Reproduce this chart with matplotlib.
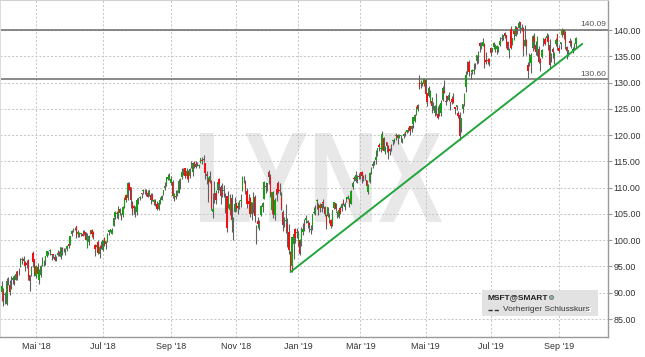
import matplotlib
matplotlib.use('Agg')
import matplotlib.pyplot as plt
import numpy as np
import pandas as pd
from matplotlib.textpath import TextPath
from matplotlib.font_manager import FontProperties
from matplotlib.patches import PathPatch, Rectangle
from matplotlib.transforms import Affine2D, blended_transform_factory
from matplotlib.lines import Line2D

plt.rcParams['font.family'] = ['Liberation Sans', 'DejaVu Sans']

# ---------------- data ----------------
start_date = '2018-03-29'
end_date = '2019-09-18'
holidays = ['2018-03-30', '2018-05-28', '2018-07-04', '2018-09-03', '2018-11-22',
            '2018-12-05', '2018-12-25', '2019-01-01', '2019-01-21', '2019-02-18',
            '2019-04-19', '2019-05-27', '2019-07-04', '2019-09-02']

opens = [
    90.18,
    90.47, 89.58, 87.85, 92.44, 91.49, 91.04, 92.39, 92.01, 92.43, 94.05, 94.07, 95.00, 96.22, 96.44, 95.91, 95.74, 96.24, 93.30, 93.55, 97.60, 96.33,
    93.21, 94.99, 92.36, 93.41, 95.17, 95.85, 96.01, 97.06, 97.79, 97.93, 97.12, 97.36, 96.80, 96.24, 97.15, 97.72, 96.89, 98.51, 98.27, 97.62, 98.33, 99.29,
    99.28, 101.26, 102.00, 102.48, 102.65, 101.09, 101.01, 101.10, 101.10, 101.65, 101.51, 98.55, 99.65, 101.37, 101.99, 101.61, 99.10, 98.80, 99.71, 97.38, 99.06,
    98.10, 100.48, 99.35, 99.89, 101.60, 101.92, 101.22, 102.71, 104.37, 105.26, 104.50, 105.98, 104.53, 104.71, 106.30, 108.57, 107.96, 110.74, 110.18, 107.19, 106.49,
    106.03, 105.40, 107.80, 108.12, 108.97, 109.33, 109.71, 109.42, 109.06, 108.51, 108.67, 108.69, 107.36, 107.51, 106.92, 105.85, 107.15, 107.67, 108.73, 109.84, 110.45, 111.67, 111.69,
    110.85, 111.01, 108.25, 108.23, 108.84, 108.90, 111.43, 112.12, 113.36, 113.69, 112.19, 113.05, 112.28, 114.00, 113.03, 114.80, 114.47, 114.78, 114.19,
    114.75, 115.30, 115.42, 114.61, 112.63, 111.66, 111.14, 111.24, 105.35, 109.01, 108.91, 109.54, 111.68, 110.10, 108.93, 109.32, 107.77, 108.41, 106.55, 105.69, 108.11, 103.66, 105.44,
    107.05, 106.48, 106.37, 107.38, 109.44, 111.80, 110.85, 109.42, 107.55, 108.10, 104.99, 106.81, 108.27, 101.80, 103.60, 102.17, 104.79, 106.27, 107.89, 110.33, 110.70,
    113.00, 111.94, 105.82, 108.38, 104.80, 109.80, 110.89, 109.58, 108.25, 105.41, 103.75, 103.65, 103.05, 101.63, 97.68, 95.14, 99.30, 102.09, 101.29,
    99.55, 100.10, 99.72, 101.64, 103.04, 103.86, 103.22, 103.19, 101.90, 102.51, 105.26, 105.00, 107.46, 106.75, 106.12, 106.86, 107.24, 106.26, 104.88, 104.62, 103.80,
    103.78, 102.87, 106.06, 107.00, 105.19, 104.39, 106.20, 106.14, 107.50, 106.31, 107.91, 107.79, 107.86, 106.90, 110.05, 111.76, 111.26, 111.69, 112.04,
    112.89, 113.02, 112.25, 111.87, 111.40, 109.16, 110.99, 112.82, 114.13, 114.54, 115.34, 116.17, 118.09, 117.39, 117.14, 119.50, 116.56, 118.62, 117.88, 117.44, 118.07,
    118.95, 119.06, 119.86, 120.10, 119.39, 119.81, 118.63, 119.76, 120.54, 120.64, 120.94, 121.64, 121.24, 122.19, 122.62, 124.10, 125.79, 130.06, 129.70, 129.90, 129.81,
    130.53, 127.98, 127.36, 126.39, 126.46, 125.44, 124.29, 124.91, 124.11, 123.87, 124.26, 126.75, 128.31, 126.52, 127.43, 126.62, 126.20, 126.91, 126.98, 125.38, 125.26, 124.23,
    123.85, 121.28, 124.95, 126.44, 129.19, 132.40, 133.88, 131.40, 131.98, 132.26, 132.63, 134.19, 135.00, 137.45, 136.58, 137.00, 137.25, 134.35, 134.14, 134.57,
    136.63, 136.13, 136.80, 135.94, 136.40, 136.00, 137.13, 138.20, 138.85, 139.44, 138.96, 137.70, 135.55, 140.22, 137.41, 139.76, 138.90, 140.43, 140.37, 141.50, 140.14, 140.33,
    137.00, 138.09, 133.30, 133.80, 133.79, 136.60, 138.61, 137.07, 136.05, 136.36, 134.39, 134.88, 137.85, 138.21, 138.55, 138.66, 137.19, 134.99, 136.39, 134.88, 137.25, 139.15,
    136.61, 137.30, 139.11, 140.03, 139.59, 136.80, 135.91, 137.85, 137.78, 135.83, 136.96, 137.36,
]

highs = [
    92.29,
    90.88, 90.05, 92.76, 93.07, 92.46, 93.17, 93.28, 93.29, 94.16, 94.18, 94.66, 96.54, 96.72, 97.07, 96.11, 96.29, 96.47, 93.30, 95.15, 97.90, 96.40,
    95.29, 95.59, 94.48, 95.23, 96.71, 96.16, 97.00, 97.95, 97.94, 98.30, 97.36, 97.40, 97.28, 97.03, 98.17, 97.88, 98.73, 98.71, 98.47, 98.45, 99.04, 99.99,
    100.86, 101.86, 102.33, 102.60, 102.69, 101.95, 101.59, 101.45, 102.00, 102.03, 101.53, 101.34, 100.99, 102.00, 102.12, 101.66, 99.36, 99.57, 100.00, 99.08, 99.84,
    100.06, 100.63, 99.92, 101.39, 101.85, 102.17, 102.36, 104.41, 105.60, 105.60, 106.50, 106.13, 105.10, 106.50, 108.14, 108.82, 111.15, 111.00, 110.18, 107.39, 106.75,
    106.45, 108.09, 108.05, 108.42, 109.00, 109.75, 109.76, 109.69, 109.46, 109.59, 108.90, 108.96, 107.90, 107.90, 107.44, 107.35, 108.18, 108.56, 109.64, 111.00, 112.03, 112.61, 112.78,
    112.24, 111.42, 108.99, 109.64, 109.64, 111.59, 111.85, 113.70, 113.73, 113.69, 113.70, 113.31, 113.80, 115.00, 114.90, 115.10, 115.06, 114.91, 114.57,
    115.68, 115.84, 116.18, 114.76, 113.17, 112.03, 113.08, 111.50, 108.93, 111.24, 109.48, 111.41, 111.81, 110.53, 110.86, 110.54, 108.97, 108.49, 109.27, 108.75, 108.70, 104.38, 108.14,
    107.32, 107.32, 107.74, 108.84, 112.24, 112.21, 111.45, 109.96, 108.74, 108.26, 107.33, 109.24, 108.56, 102.97, 104.43, 103.81, 106.63, 107.33, 111.33, 111.12, 110.97,
    113.42, 112.64, 109.24, 109.45, 107.98, 110.95, 111.27, 110.87, 109.26, 105.80, 104.51, 106.88, 104.31, 103.00, 97.97, 100.69, 101.19, 102.41, 102.40,
    101.75, 100.19, 102.51, 103.27, 103.97, 104.88, 103.75, 103.44, 102.87, 105.05, 106.26, 106.63, 107.90, 107.10, 107.04, 107.00, 107.88, 106.48, 104.97, 106.38, 105.22,
    104.10, 105.80, 107.27, 107.00, 105.59, 105.78, 106.58, 107.14, 107.78, 107.29, 108.30, 108.66, 107.94, 109.48, 111.20, 112.18, 113.24, 112.36, 112.88,
    113.02, 113.25, 112.39, 112.66, 111.55, 110.71, 112.95, 113.99, 115.00, 115.20, 117.25, 117.61, 118.44, 118.75, 120.82, 119.59, 118.01, 118.71, 118.21, 117.58, 118.32,
    119.11, 119.48, 120.43, 120.23, 120.23, 120.02, 119.54, 120.35, 120.85, 120.98, 121.58, 121.65, 121.85, 123.52, 124.00, 125.58, 125.85, 131.37, 130.52, 130.18, 130.70,
    130.65, 128.00, 129.43, 128.56, 127.18, 126.37, 125.80, 127.93, 125.55, 125.88, 126.71, 129.38, 130.46, 127.59, 127.53, 128.24, 126.29, 127.42, 128.00, 125.39, 125.76, 124.62,
    124.37, 123.28, 125.87, 127.97, 132.25, 134.08, 134.24, 131.97, 132.67, 133.79, 133.73, 135.24, 135.93, 137.66, 137.73, 138.40, 137.59, 135.74, 134.71, 134.60,
    136.70, 136.58, 137.74, 137.33, 137.10, 136.97, 138.58, 139.22, 139.13, 139.54, 139.05, 137.93, 136.62, 140.67, 138.43, 139.99, 140.74, 140.61, 141.68, 141.51, 141.22, 140.49,
    140.94, 138.32, 133.93, 135.68, 135.65, 138.99, 139.38, 137.86, 138.80, 136.92, 134.58, 136.46, 138.55, 138.71, 139.49, 139.20, 138.35, 135.56, 136.72, 135.76, 138.44, 139.18,
    137.20, 137.69, 140.38, 140.18, 139.75, 136.89, 136.27, 138.42, 138.06, 136.70, 137.52, 138.67,
]

lows = [
    88.40,
    87.51, 87.89, 87.73, 91.40, 89.48, 90.62, 91.64, 91.48, 92.43, 92.44, 93.42, 94.88, 95.52, 95.34, 94.05, 94.63, 92.41, 90.28, 93.10, 94.97, 93.15,
    92.79, 93.40, 91.59, 92.97, 95.10, 95.06, 95.37, 96.81, 97.11, 97.25, 96.21, 96.65, 96.00, 96.01, 97.04, 96.99, 96.51, 97.15, 97.75, 97.12, 97.93, 98.61,
    99.17, 100.85, 101.53, 101.90, 100.38, 100.54, 100.67, 100.75, 100.74, 101.00, 100.07, 98.53, 99.16, 101.13, 100.69, 100.21, 96.92, 98.39, 97.39, 96.69, 98.33,
    98.00, 98.94, 98.33, 99.66, 100.93, 101.49, 101.13, 102.66, 104.05, 104.21, 104.04, 104.82, 103.89, 104.43, 106.14, 107.26, 107.60, 109.50, 106.14, 104.78, 105.05,
    104.42, 104.84, 106.82, 107.56, 108.06, 108.76, 108.86, 108.38, 108.25, 108.39, 106.82, 107.46, 106.69, 106.48, 105.79, 105.77, 106.87, 107.56, 108.51, 109.58, 110.29, 111.44, 111.52,
    110.56, 108.10, 107.51, 107.93, 108.44, 108.89, 109.65, 111.72, 112.44, 111.86, 111.72, 111.04, 111.93, 113.75, 112.21, 113.75, 113.74, 114.20, 113.68,
    114.73, 114.44, 114.93, 111.63, 110.64, 107.31, 110.80, 105.79, 104.20, 107.12, 106.95, 108.95, 109.55, 106.81, 108.21, 108.24, 105.11, 101.59, 106.15, 104.76, 101.63, 100.11, 105.39,
    105.53, 104.98, 105.90, 106.28, 109.40, 110.91, 108.76, 106.10, 106.64, 104.47, 103.92, 105.18, 103.55, 99.35, 102.24, 102.00, 104.58, 105.36, 107.86, 109.03, 109.36,
    110.73, 108.21, 105.00, 104.30, 103.89, 107.44, 109.04, 108.63, 105.76, 101.71, 102.52, 101.35, 98.78, 97.46, 93.98, 93.96, 96.40, 99.52, 100.44,
    98.94, 97.20, 98.93, 100.98, 101.71, 103.24, 102.38, 101.64, 101.26, 101.88, 104.96, 104.76, 105.91, 104.86, 105.34, 105.34, 106.20, 104.66, 102.17, 104.33, 103.18,
    102.35, 102.77, 105.96, 105.53, 104.29, 104.26, 104.97, 105.48, 106.71, 105.66, 107.36, 107.78, 106.29, 106.87, 109.82, 111.26, 111.17, 110.88, 111.73,
    111.67, 110.80, 111.23, 111.43, 109.87, 108.80, 110.98, 112.65, 113.78, 114.33, 114.59, 116.05, 116.99, 116.71, 117.09, 117.04, 116.32, 116.85, 115.52, 116.13, 116.96,
    118.10, 118.52, 119.15, 118.38, 119.37, 118.64, 118.58, 119.54, 119.92, 120.37, 120.57, 120.10, 120.54, 121.30, 122.57, 123.83, 124.52, 128.83, 129.02, 129.35, 129.39,
    127.70, 125.52, 127.25, 126.11, 124.22, 124.75, 123.57, 123.82, 123.04, 123.70, 123.70, 126.46, 127.92, 125.76, 126.58, 126.52, 124.74, 125.97, 126.05, 124.04, 124.78, 123.32,
    119.01, 120.65, 124.21, 125.60, 128.26, 131.62, 131.28, 130.71, 131.56, 131.64, 132.53, 133.57, 133.81, 135.72, 136.46, 137.00, 132.73, 133.60, 133.51, 133.16,
    134.97, 135.72, 136.30, 135.72, 135.37, 135.80, 137.02, 137.87, 138.01, 138.46, 136.52, 136.22, 134.67, 136.45, 137.06, 138.03, 138.85, 139.32, 140.30, 139.37, 139.80, 135.08,
    136.93, 135.26, 130.78, 133.21, 131.83, 135.93, 136.46, 135.24, 135.00, 133.67, 132.25, 134.72, 136.89, 137.24, 138.00, 136.29, 132.80, 133.90, 134.66, 133.55, 136.91, 136.27,
    135.70, 136.48, 138.76, 138.20, 136.46, 134.51, 135.09, 136.87, 136.57, 135.66, 136.43, 136.53,
]

closes = [
    91.27,
    88.52, 89.71, 92.33, 92.38, 90.23, 90.77, 92.88, 91.86, 93.58, 93.08, 94.17, 96.07, 96.44, 96.11, 95.00, 95.35, 93.12, 92.31, 94.26, 95.82, 93.52,
    95.00, 93.51, 94.07, 95.16, 96.22, 95.81, 96.94, 97.91, 97.70, 98.03, 97.32, 97.15, 96.18, 96.36, 97.60, 97.50, 98.66, 98.31, 98.36, 98.01, 98.95, 98.84,
    100.79, 101.67, 102.19, 102.49, 100.88, 101.63, 101.05, 101.31, 100.85, 101.42, 100.13, 100.86, 100.86, 101.87, 101.14, 100.41, 98.39, 99.08, 97.54, 98.63, 98.61,
    100.01, 99.05, 99.76, 101.16, 101.85, 102.06, 101.98, 104.19, 105.43, 104.91, 105.95, 105.12, 104.40, 106.27, 107.97, 107.66, 110.83, 109.62, 107.68, 105.37, 106.08,
    106.28, 107.57, 108.04, 108.13, 108.88, 109.49, 109.67, 109.00, 108.21, 109.56, 107.66, 107.64, 107.58, 106.87, 105.98, 107.06, 107.56, 108.40, 109.60, 110.26, 112.02, 111.95, 112.33,
    111.71, 108.49, 108.74, 108.21, 109.38, 111.24, 111.71, 112.91, 113.37, 112.14, 113.21, 111.70, 113.57, 114.26, 114.67, 114.45, 113.98, 114.41, 114.37,
    115.61, 115.15, 115.17, 112.79, 112.13, 110.85, 112.26, 106.16, 105.91, 109.57, 107.60, 111.00, 110.71, 108.50, 108.66, 109.63, 108.10, 102.32, 108.30, 106.96, 103.85, 103.73, 106.81,
    105.92, 106.16, 107.51, 107.72, 111.96, 111.75, 109.57, 106.87, 106.94, 104.97, 107.28, 108.29, 104.62, 101.71, 103.11, 103.07, 106.47, 107.14, 111.12, 110.19, 110.89,
    112.09, 108.52, 109.19, 104.82, 107.59, 108.59, 109.08, 109.45, 106.03, 102.89, 103.97, 103.69, 101.51, 98.23, 94.13, 100.56, 101.18, 100.39, 101.57,
    101.12, 97.40, 101.93, 102.06, 102.80, 104.27, 103.60, 102.80, 102.05, 105.01, 105.38, 106.12, 107.71, 105.68, 106.71, 106.20, 107.17, 105.08, 102.94, 106.38, 104.43,
    102.78, 105.74, 107.22, 106.03, 105.27, 105.67, 105.25, 106.89, 106.81, 106.90, 108.22, 108.17, 107.15, 109.41, 110.97, 111.59, 112.36, 112.17, 112.03,
    112.53, 112.26, 111.70, 111.75, 110.39, 110.51, 112.83, 113.62, 114.50, 114.59, 115.91, 117.57, 117.65, 117.52, 120.22, 117.05, 117.66, 117.91, 116.77, 116.93, 117.94,
    119.02, 119.19, 119.97, 119.36, 119.89, 119.93, 119.28, 120.19, 120.33, 120.95, 121.05, 120.77, 121.77, 123.37, 123.76, 125.44, 125.01, 129.15, 129.89, 129.77, 130.60,
    127.88, 126.21, 128.90, 128.15, 125.52, 125.51, 125.50, 127.13, 123.35, 124.73, 126.02, 128.93, 128.07, 126.22, 126.90, 127.67, 126.18, 126.24, 126.16, 124.94, 125.73, 123.68,
    119.84, 123.16, 125.83, 127.82, 131.40, 132.60, 132.10, 131.49, 132.32, 132.45, 132.85, 135.16, 135.69, 136.95, 136.97, 137.78, 133.43, 133.93, 134.15, 133.96,
    135.68, 136.58, 137.46, 137.06, 136.96, 136.46, 137.85, 138.40, 138.90, 138.90, 137.08, 136.27, 136.42, 136.62, 138.43, 139.29, 140.72, 140.19, 141.34, 141.03, 140.35, 136.27,
    138.06, 136.90, 132.21, 134.69, 135.28, 138.89, 137.71, 135.79, 138.60, 133.98, 133.68, 136.13, 138.41, 137.26, 138.79, 137.78, 133.39, 135.45, 135.74, 135.56, 138.12, 137.86,
    136.04, 137.63, 140.05, 139.10, 137.52, 136.08, 136.12, 137.52, 137.32, 136.33, 137.39, 138.52,
]

# horizontal levels
levels = [140.09, 130.60]
level_labels = ['140.09', '130.60']

# trend line (trading-day index, price)
trend_idx = [186, 374]
trend_val = [93.96, 137.35]

# x tick labels (first trading day of month)
month_dates = ['2018-05-01', '2018-07-02', '2018-09-04', '2018-11-01', '2019-01-02',
               '2019-03-01', '2019-05-01', '2019-07-01', '2019-09-03']
month_labels = ["Mai '18", "Jul '18", "Sep '18", "Nov '18", "Jan '19",
                "Mär '19", "Mai '19", "Jul '19", "Sep '19"]

y_ticks = [85, 90, 95, 100, 105, 110, 115, 120, 125, 130, 135, 140]

legend_title = 'MSFT@SMART'
legend_entry = 'Vorheriger Schlusskurs'
watermark = 'LYNX'

# ---------------- figure ----------------
dates = pd.bdate_range(start_date, end_date, freq='C', holidays=holidays)
n = len(closes)
assert len(dates) == n == len(opens) == len(highs) == len(lows)

W, H = 645, 357
fig = plt.figure(figsize=(W / 100, H / 100), dpi=100)
fig.patch.set_facecolor('white')
ax = fig.add_axes([0, (H - 337) / H, 608 / W, 337 / H])

o = np.array(opens); h = np.array(highs); l = np.array(lows); c = np.array(closes)
x = np.arange(n)
up = c >= o
lo_w = np.minimum(l, np.minimum(o, c))
hi_w = np.maximum(h, np.maximum(o, c))
ax.vlines(x, lo_w, hi_w, color='#606060', lw=0.8, zorder=3)
ax.bar(x, np.maximum(np.abs(c - o), 0.12), bottom=np.minimum(o, c), width=0.85,
       color=np.where(up, '#14a014', '#f01212'), edgecolor='none', linewidth=0, zorder=4)

for v, lab in zip(levels, level_labels):
    ax.axhline(v, color='#6a6a6a', lw=1.1, zorder=2.5)
    ax.text(0.997, v + 0.35, lab, transform=blended_transform_factory(ax.transAxes, ax.transData),
            ha='right', va='bottom', fontsize=6, color='#555555', zorder=6)

ax.plot(trend_idx, trend_val, color='#22a63c', lw=1.4, zorder=5, solid_capstyle='round')

ax.set_xlim(-1.2, 390.6)
ax.set_ylim(81.58, 145.71)

month_idx = [int(dates.searchsorted(pd.Timestamp(d))) for d in month_dates]
ax.set_xticks(month_idx)
ax.set_xticklabels(month_labels)
ax.yaxis.tick_right()
ax.set_yticks(y_ticks)
ax.set_yticklabels([f'{v:.2f}' for v in y_ticks])
ax.tick_params(axis='x', length=0, pad=3.5, labelsize=6.4, labelcolor='#333333')
ax.tick_params(axis='y', length=3, width=0.8, color='#9a9a9a', pad=1, labelsize=6.4, labelcolor='#333333')

ax.set_axisbelow(True)
ax.grid(True, color='#c4c4c4', ls=(0, (2, 2)), lw=0.7)
for side in ['right', 'bottom']:
    ax.spines[side].set_color('#9a9a9a'); ax.spines[side].set_linewidth(1.0)
ax.spines['top'].set_color('#d0d0d0'); ax.spines['top'].set_linewidth(0.8)
ax.spines['left'].set_color('#dddddd'); ax.spines['left'].set_linewidth(0.8)

# watermark
tp = TextPath((0, 0), watermark, size=100, prop=FontProperties(family='Liberation Sans', weight='bold'))
ext = tp.get_extents()
x0, x1 = 200, 442
yb, yt = H - 222, H - 133
tr = Affine2D().translate(-ext.x0, -ext.y0).scale((x1 - x0) / ext.width, (yt - yb) / ext.height).translate(x0, yb)
wm = PathPatch(tp, transform=tr, facecolor='#e8e8e8', edgecolor='none', zorder=0.2)
ax.add_artist(wm)

# legend box (pixel coordinates)
def fx(px): return px / W
def fy(py): return 1 - py / H
fig.patches.append(Rectangle((fx(482), fy(316)), fx(598) - fx(482), fy(290) - fy(316),
                             transform=fig.transFigure, facecolor='#e2e2e2', edgecolor='none', zorder=10))
fig.text(fx(487), fy(297.5), legend_title, fontsize=6, fontweight='bold', color='#222222',
         ha='left', va='center', zorder=11)
fig.lines.append(Line2D([fx(550.5)], [fy(297)], transform=fig.transFigure, marker='o', markersize=3,
                        markerfacecolor='#8fb0a0', markeredgecolor='#607060', markeredgewidth=0.5, zorder=11))
fig.lines.append(Line2D([fx(488), fx(499)], [fy(309.5), fy(309.5)], transform=fig.transFigure,
                        color='#333333', lw=1.0, ls=(0, (3, 1.5)), zorder=11))
fig.text(fx(503), fy(309.5), legend_entry, fontsize=6, color='#333333', ha='left', va='center', zorder=11)
fig.patches.append(Rectangle((fx(587), fy(311.5)), fx(591) - fx(587), fy(307.5) - fy(311.5),
                             transform=fig.transFigure, facecolor='white', edgecolor='none', zorder=11))

fig.savefig('out.png', dpi=100)
